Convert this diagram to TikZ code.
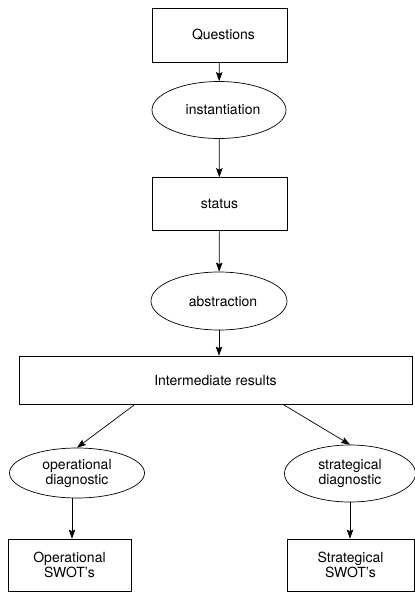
\documentclass[tikz,border=0pt]{standalone}
\usepackage{fontspec}
\setmainfont{TeX Gyre Heros}
\usetikzlibrary{positioning, shapes, arrows, arrows.meta}

\tikzstyle{stepBox}=[draw, rectangle, inner sep=0pt, align=center, font=\fontsize{14}{15}\selectfont]
\tikzstyle{stepOval}=[draw, ellipse, inner sep=0pt, align=center, font=\fontsize{14}{15}\selectfont]
\tikzstyle{flowArrow}=[-{Stealth[length=9pt, width=6.5pt, inset=1.5pt]}, line width=0.7pt]

\begin{document}
\begin{tikzpicture}[x=1pt, y=-1pt, line width=0.7pt]
        \useasboundingbox (0, 0) rectangle (415, 592);

        \node[stepBox, minimum width=135pt, minimum height=54pt] (q) at (219.5, 35) {\hspace{8pt}Questions};
        \node[stepOval, minimum width=134pt, minimum height=57pt] (inst) at (219, 110) {\hspace{8pt}instantiation};
        \node[stepBox, minimum width=135pt, minimum height=53pt] (stat) at (219.5, 204) {status};
        \node[stepOval, minimum width=136pt, minimum height=58pt] (abst) at (219, 301) {\hspace{8pt}abstraction};

        \node[stepBox, minimum width=393pt, minimum height=48pt] (inter) at (215.5, 380) {Intermediate results};

        \node[stepOval, minimum width=135pt, minimum height=50pt] (opdiag) at (77, 473) {operational \\ diagnostic};
        \node[stepOval, minimum width=131pt, minimum height=57pt] (stdiag) at (350, 473.5) {strategical \\ diagnostic};

        \node[stepBox, minimum width=123pt, minimum height=52pt] (opswot) at (69.5, 565) {Operational \\ SWOT's};
        \node[stepBox, minimum width=127pt, minimum height=52pt] (stswot) at (350.5, 565) {Strategical \\ SWOT's};

        \draw[flowArrow] (q) -- (inst);
        \draw[flowArrow] (inst) -- (stat);
        \draw[flowArrow] (stat) -- (abst);
        \draw[flowArrow] (abst.south) -- (abst.south |- inter.north);

        \draw[flowArrow] ([xshift=-80.5pt]inter.south) -- (opdiag.north);
        \draw[flowArrow] ([xshift=67.5pt]inter.south) -- (stdiag.north);

        \draw[flowArrow] ([xshift=-5pt]opdiag.south) -- ([xshift=-5pt]opdiag.south |- opswot.north);
        \draw[flowArrow] (stdiag.south) -- (stdiag.south |- stswot.north);

    \end{tikzpicture}
\end{document}
